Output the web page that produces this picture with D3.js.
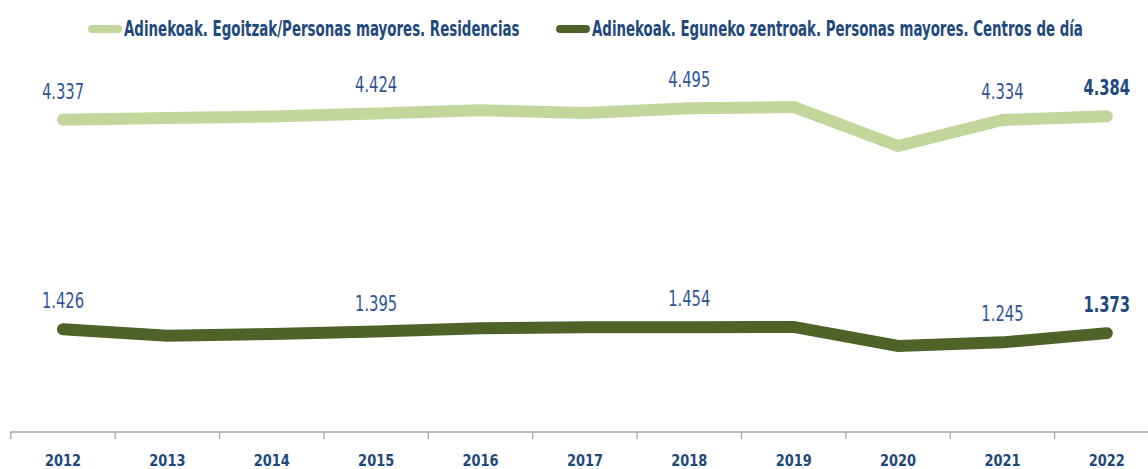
<!DOCTYPE html>
<html lang="es">
<head>
    <meta charset="UTF-8">
    <title>Adinekoak</title>
    <script src="https://d3js.org/d3.v7.min.js"></script>
    <style>
        body { margin: 0; background: #fff; }
        svg text { font-family: "Liberation Sans Narrow", "DejaVu Sans Condensed", "Arial Narrow", sans-serif; }
        .line { fill: none; stroke-width: 12px; stroke-linecap: round; stroke-linejoin: miter; }
        .axis line { stroke: #a6a6a6; stroke-width: 1.3px; }
        .axis text { fill: #1f497d; font-weight: bold; font-size: 16px; text-anchor: middle; }
        .label { fill: #2f5597; font-size: 21px; text-anchor: middle; }
        .label.last { font-weight: bold; fill: #1f497d; }
        .legend text { fill: #1f497d; font-weight: bold; font-size: 21px; }
    </style>
</head>
<body>
    <svg width="1148" height="469"></svg>
    <script>
        const years = ["2012", "2013", "2014", "2015", "2016", "2017", "2018", "2019", "2020", "2021", "2022"];
        const residencias = [4337, 4362, 4382, 4424, 4470, 4432, 4495, 4514, 3972, 4334, 4384];
        const centrosDia = [1426, 1338, 1362, 1395, 1440, 1455, 1454, 1460, 1195, 1245, 1373];
        const seriesNames = [
            "Adinekoak. Egoitzak/Personas mayores. Residencias",
            "Adinekoak. Eguneko zentroak. Personas mayores. Centros de día"
        ];
        const seriesColors = ["#c3d69b", "#4f6228"];
        const labelledYears = ["2012", "2015", "2018", "2021", "2022"];

        const svg = d3.select("svg");

        const x = d3.scaleBand().domain(years).range([10.8, 1159]).padding(0);
        const cx = d => x(d) + x.bandwidth() / 2;
        const y = d3.scaleLinear().domain([0, 5000]).range([432, 72]);

        // narrow the fallback font a bit so texts keep the original's proportions
        function squeeze(sel, sx) {
            sel.each(function () {
                const t = d3.select(this);
                const px = +t.attr("x"), py = +t.attr("y");
                t.attr("x", 0).attr("y", 0)
                    .attr("transform", `translate(${px},${py}) scale(${sx},1)`);
            });
        }

        // axis: ticks between categories like the original
        const axis = svg.append("g").attr("class", "axis");
        axis.append("line")
            .attr("x1", 10).attr("x2", 1148)
            .attr("y1", y(0)).attr("y2", y(0));
        axis.selectAll(".tick")
            .data(years)
            .join("line")
            .attr("class", "tick")
            .attr("x1", d => x(d)).attr("x2", d => x(d))
            .attr("y1", y(0)).attr("y2", y(0) + 7);
        axis.selectAll("text")
            .data(years)
            .join("text")
            .attr("x", cx)
            .attr("y", 466)
            .text(d => d)
            .call(squeeze, 0.9);

        const line = d3.line()
            .x((d, i) => cx(years[i]))
            .y(d => y(d));

        const series = [residencias, centrosDia];

        series.forEach((vals, s) => {
            svg.append("path")
                .datum(vals)
                .attr("class", "line")
                .attr("stroke", seriesColors[s])
                .attr("d", line);

            svg.append("g")
                .selectAll("text")
                .data(years.map((yr, i) => ({yr, v: vals[i]})).filter(d => labelledYears.includes(d.yr)))
                .join("text")
                .attr("class", d => d.yr === "2022" ? "label last" : "label")
                .attr("x", d => cx(d.yr))
                .attr("y", d => y(d.v) - 21)
                .text(d => d3.format(",")(d.v).replace(",", "."))
                .call(squeeze, 0.78);
        });

        // legend
        const legend = svg.append("g").attr("class", "legend");
        const legendPos = [{x: 88, w: 396}, {x: 556, w: 491}];
        seriesNames.forEach((name, i) => {
            legend.append("line")
                .attr("x1", legendPos[i].x + 4).attr("x2", legendPos[i].x + 30)
                .attr("y1", 29).attr("y2", 29)
                .attr("stroke", seriesColors[i])
                .attr("stroke-width", 8)
                .attr("stroke-linecap", "round");
            const t = legend.append("text")
                .attr("x", legendPos[i].x + 36)
                .attr("y", 36)
                .text(name);
            const natural = t.node().getComputedTextLength();
            t.call(squeeze, legendPos[i].w / natural);
        });
    </script>
</body>
</html>
